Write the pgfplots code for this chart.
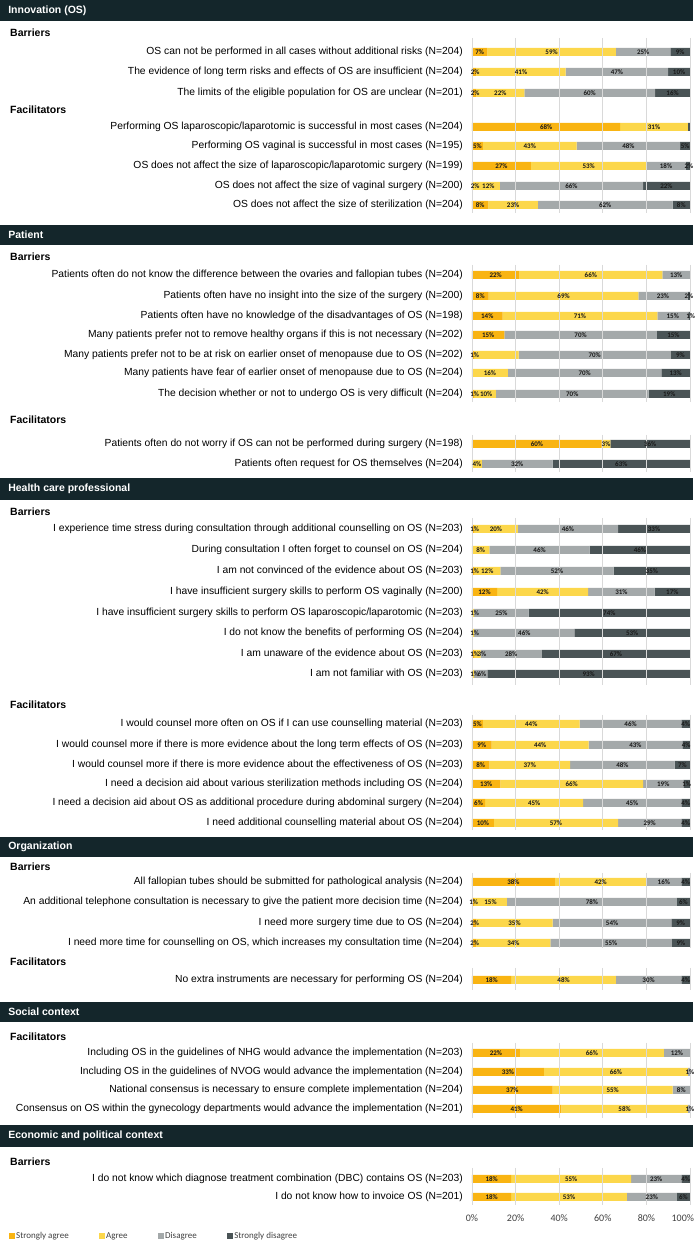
\documentclass[border=0pt]{standalone}
\usepackage{fontspec}
\setmainfont{Liberation Sans}
\newfontfamily\calfont{Carlito}
\usepackage{pgfplots}
\usepackage{pgfplotstable}
\pgfplotsset{compat=1.18}
\definecolor{csa}{RGB}{249,180,18}
\definecolor{cag}{RGB}{252,215,75}
\definecolor{cdi}{RGB}{164,169,170}
\definecolor{csd}{RGB}{74,84,86}
\definecolor{chdr}{RGB}{20,38,43}
\definecolor{cgrid}{RGB}{217,217,217}
\definecolor{ctick}{RGB}{64,64,64}
\definecolor{clab}{RGB}{25,25,25}
\newcommand{\labfont}{\fontsize{10.3}{12}\selectfont}
\newcommand{\hfont}{\fontsize{10.5}{12}\selectfont\bfseries}
\newcommand{\gridsec}[2]{\pgfplotsinvokeforeach{0,20,40,60,80,100}{\draw[cgrid,line width=0.7pt] (axis cs:##1,-#1) -- (axis cs:##1,-#2);}}
\newcommand{\lab}[2]{\node[anchor=east,font=\labfont,inner sep=0pt] at (axis cs:-4.13,-#1) {#2};}
\newcommand{\sub}[2]{\node[anchor=west,font=\hfont,inner sep=0pt] at (axis cs:-211.93,-#1) {#2};}
\newcommand{\hd}[4]{\fill[chdr] (axis cs:-216.6,-#1) rectangle (axis cs:101.4,-#2);
  \node[anchor=west,font=\hfont,text=white,inner sep=0pt] at (axis cs:-212.8,-#3) {#4};}
\begin{document}
\begin{tikzpicture}
\pgfplotstableread{
y sa a d sd
-52 7 59 25 9
-72 2 41 47 10
-93 2 22 60 16
-127 68 31 0 1
-146 5 43 47.5 4.5
-166 27 53 18 2
-186 0.5 12.3 65.7 21.5
-205 7.5 22.7 61.8 8
-275 21.7 65.6 12.7 0
-296 7.6 68.7 22.6 1.1
-316 14 71 14.2 0.8
-335 14.8 0 70 15.2
-355 1 20.4 69.8 8.8
-373 0 16.5 70.4 13.1
-394 1 10 70 19
-444 59.5 4 0 36.5
-464 0 4.5 32.5 63
-529 1 20 46 33
-550 0 8 46 46
-571 1 12 52 35
-592 11.5 41.8 30.5 16.2
-613 0 1 25 74
-633 0 1 46 53
-654 1 3 28 68
-674 0 1 6 93
-724 5 44.4 46.7 3.9
-745 9 44.5 43 3.5
-765 8 37 48 7
-784 13 65.5 18.5 3
-803 6 45 45 4
-823 10 57 29 4
-882 38 42 16 4
-902 1 15 78 6
-923 2 35 54.5 8.5
-943 2 34 55.7 8.3
-980 18 48 30 4
-1053 22 66 12 0
-1072 33 66 1 0
-1090 37 55 8 0
-1109 41 58 1 0
-1179 18 55 23 4
-1197 18 53 23 6
}\data
\pgfplotstableread{
x y t
3.5 -52 7
36.5 -52 59
78.5 -52 25
95.5 -52 9
1.5 -72 2
22.5 -72 41
66.5 -72 47
95 -72 10
1.5 -93 2
13 -93 22
54 -93 60
92 -93 16
34 -127 68
83.5 -127 31
2.5 -146 5
26.5 -146 43
71.75 -146 48
97.75 -146 5
13.5 -166 27
53.5 -166 53
89 -166 18
99.5 -166 2
1.5 -186 2
7.5 -186 12
45.6 -186 66
89.2 -186 22
3.75 -205 8
18.85 -205 23
61.1 -205 62
96 -205 8
10.85 -275 22
54.5 -275 66
93.65 -275 13
3.8 -296 8
42 -296 69
87.6 -296 23
99.5 -296 2
7 -316 14
49.5 -316 71
92.1 -316 15
100.3 -316 1
7.4 -335 15
49.8 -335 70
92.4 -335 15
1.2 -355 1
56.3 -355 70
95.6 -355 9
8.25 -373 16
51.7 -373 70
93.45 -373 13
1.2 -394 1
6.5 -394 10
46 -394 70
90.5 -394 19
29.75 -444 60
61.5 -444 3
81.75 -444 36
2.25 -464 4
20.75 -464 32
68.5 -464 63
1.2 -529 1
11 -529 20
44 -529 46
83.5 -529 33
4 -550 8
31 -550 46
77 -550 46
1.2 -571 1
7 -571 12
39 -571 52
82.5 -571 35
5.75 -592 12
32.4 -592 42
68.55 -592 31
91.9 -592 17
1.2 -613 1
13.5 -613 25
63 -613 74
1.2 -633 1
24 -633 46
73.5 -633 53
1.2 -654 1
4.6 -654 3
18 -654 28
66 -654 67
1.2 -674 1
4.6 -674 6
53.5 -674 93
2.5 -724 5
27.2 -724 44
72.75 -724 46
98.05 -724 4
4.5 -745 9
31.25 -745 44
75 -745 43
98.25 -745 4
4 -765 8
26.5 -765 37
69 -765 48
96.5 -765 7
6.5 -784 13
45.75 -784 66
87.75 -784 19
98.5 -784 1
3 -803 6
28.5 -803 45
73.5 -803 45
98 -803 4
5 -823 10
38.5 -823 57
81.5 -823 29
98 -823 4
19 -882 38
59 -882 42
88 -882 16
98 -882 4
0.8 -902 1
8.5 -902 15
55 -902 78
97 -902 6
1.2 -923 2
19.5 -923 35
64.25 -923 54
95.75 -923 9
1.2 -943 2
19 -943 34
63.85 -943 55
95.85 -943 9
9 -980 18
42 -980 48
81 -980 30
98 -980 4
11 -1053 22
55 -1053 66
94 -1053 12
16.5 -1072 33
66 -1072 66
100 -1072 1
18.5 -1090 37
64.5 -1090 55
96 -1090 8
20.5 -1109 41
70 -1109 58
100 -1109 1
9 -1179 18
45.5 -1179 55
84.5 -1179 23
98 -1179 4
9 -1197 18
44.5 -1197 53
82.5 -1197 23
97 -1197 6
}\labs
\pgfplotsset{base/.style={scale only axis, width=218pt, height=1210pt,
  xmin=0, xmax=100, ymin=-1210, ymax=0, at={(0,0)}, anchor=south west, clip=false}}
\begin{axis}[base, xbar stacked, bar width=8pt,
  axis line style={draw=none}, tick style={draw=none}, major tick length=0pt,
  ytick=\empty, xtick={0,20,40,60,80,100},
  xticklabels={0\%,20\%,40\%,60\%,80\%,\hbox to 0pt{\hss 100\%\kern-4pt}},
  xticklabel style={font=\calfont\fontsize{10}{11}\selectfont, text=ctick, yshift=-1pt},
  legend columns=-1,
  legend style={draw=none, fill=none, inner sep=0pt, font=\calfont\fontsize{9}{10}\selectfont, text=ctick,
    at={(axis description cs:-2.1239,-0.0215)}, anchor=west,
    nodes={inner sep=1.5pt},
    /tikz/every even column/.append style={column sep=29pt}},
  legend image code/.code={\fill[#1] (0pt,-2.7pt) rectangle (5.5pt,2.7pt);},
]
\gridsec{38}{213}
\gridsec{265}{402}
\gridsec{435}{472}
\gridsec{518}{685}
\gridsec{715}{830}
\gridsec{873}{948}
\gridsec{968}{990}
\gridsec{1043}{1118}
\gridsec{1168}{1205}
\addplot[fill=csa, draw=none] table[x=sa, y=y] {\data};
\addplot[fill=cag, draw=none] table[x=a, y=y] {\data};
\addplot[fill=cdi, draw=none] table[x=d, y=y] {\data};
\addplot[fill=csd, draw=none] table[x=sd, y=y] {\data};
\legend{Strongly agree, Agree, Disagree, Strongly disagree}
\end{axis}
\begin{axis}[base, hide axis]
\addplot[only marks, mark=none, nodes near coords={\pgfplotspointmeta\%},
  point meta=explicit symbolic,
  every node near coord/.style={anchor=center, inner sep=0pt, text=clab, font=\calfont\bfseries\fontsize{7}{8}\selectfont}]
  table[x=x, y=y, meta=t] {\labs};
\hd{0}{21}{10.5}{Innovation (OS)}
\hd{225}{245}{235}{Patient}
\hd{478}{500}{489}{Health care professional}
\hd{837}{857}{847}{Organization}
\hd{1002}{1022}{1012}{Social context}
\hd{1125}{1147}{1136}{Economic and political context}
\sub{33}{Barriers}
\sub{110}{Facilitators}
\sub{257}{Barriers}
\sub{420}{Facilitators}
\sub{512}{Barriers}
\sub{705}{Facilitators}
\sub{867}{Barriers}
\sub{962}{Facilitators}
\sub{1037}{Facilitators}
\sub{1162}{Barriers}
\lab{52}{OS can not be performed in all cases without additional risks (N=204)}
\lab{72}{The evidence of long term risks and effects of OS are insufficient (N=204)}
\lab{93}{The limits of the eligible population for OS are unclear (N=201)}
\lab{127}{Performing OS laparoscopic/laparotomic is successful in most cases (N=204)}
\lab{146}{Performing OS vaginal is successful in most cases (N=195)}
\lab{166}{OS does not affect the size of laparoscopic/laparotomic surgery (N=199)}
\lab{186}{OS does not affect the size of vaginal surgery (N=200)}
\lab{205}{OS does not affect the size of sterilization (N=204)}
\lab{275}{Patients often do not know the difference between the ovaries and fallopian tubes (N=204)}
\lab{296}{Patients often have no insight into the size of the surgery (N=200)}
\lab{316}{Patients often have no knowledge of the disadvantages of OS (N=198)}
\lab{335}{Many patients prefer not to remove healthy organs if this is not necessary (N=202)}
\lab{355}{Many patients prefer not to be at risk on earlier onset of menopause due to OS (N=202)}
\lab{373}{Many patients have fear of earlier onset of menopause due to OS (N=204)}
\lab{394}{The decision whether or not to undergo OS is very difficult (N=204)}
\lab{444}{Patients often do not worry if OS can not be performed during surgery (N=198)}
\lab{464}{Patients often request for OS themselves (N=204)}
\lab{529}{I experience time stress during consultation through additional counselling on OS (N=203)}
\lab{550}{During consultation I often forget to counsel on OS (N=204)}
\lab{571}{I am not convinced of the evidence about OS (N=203)}
\lab{592}{I have insufficient surgery skills to perform OS vaginally (N=200)}
\lab{613}{I have insufficient surgery skills to perform OS laparoscopic/laparotomic (N=203)}
\lab{633}{I do not know the benefits of performing OS (N=204)}
\lab{654}{I am unaware of the evidence about OS (N=203)}
\lab{674}{I am not familiar with OS (N=203)}
\lab{724}{I would counsel more often on OS if I can use counselling material (N=203)}
\lab{745}{I would counsel more if there is more evidence about the long term effects of OS (N=203)}
\lab{765}{I would counsel more if there is more evidence about the effectiveness of OS (N=203)}
\lab{784}{I need a decision aid about various sterilization methods including OS (N=204)}
\lab{803}{I need a decision aid about OS as additional procedure during abdominal surgery (N=204)}
\lab{823}{I need additional counselling material about OS (N=204)}
\lab{882}{All fallopian tubes should be submitted for pathological analysis (N=204)}
\lab{902}{An additional telephone consultation is necessary to give the patient more decision time (N=204)}
\lab{923}{I need more surgery time due to OS (N=204)}
\lab{943}{I need more time for counselling on OS, which increases my consultation time (N=204)}
\lab{980}{No extra instruments are necessary for performing OS (N=204)}
\lab{1053}{Including OS in the guidelines of NHG would advance the implementation (N=203)}
\lab{1072}{Including OS in the guidelines of NVOG would advance the implementation (N=204)}
\lab{1090}{National consensus is necessary to ensure complete implementation (N=204)}
\lab{1109}{Consensus on OS within the gynecology departments would advance the implementation (N=201)}
\lab{1179}{I do not know which diagnose treatment combination (DBC) contains OS (N=203)}
\lab{1197}{I do not know how to invoice OS (N=201)}
\end{axis}
\pgfresetboundingbox
\path[use as bounding box] (-472pt,-31pt) rectangle (222pt,1210pt);
\end{tikzpicture}
\end{document}
